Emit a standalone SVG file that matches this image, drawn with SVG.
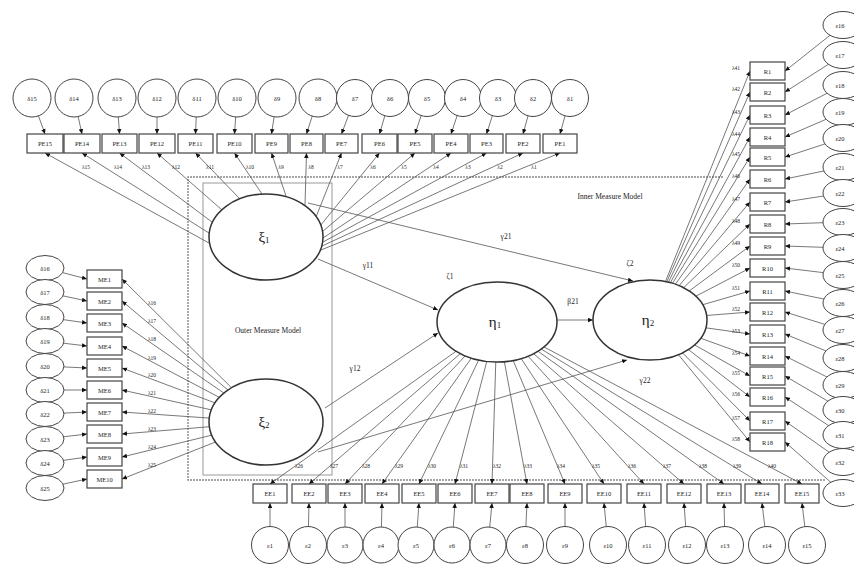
<svg xmlns="http://www.w3.org/2000/svg" width="854" height="564" viewBox="0 0 854 564">
<style>
.bx{fill:#fff;stroke:#444;stroke-width:1.2}
.er{fill:#fff;stroke:#444;stroke-width:1}
.lv{fill:#fff;stroke:#333;stroke-width:1.5}
.ln{stroke:#555;stroke-width:0.8;fill:none;marker-end:url(#a)}
.t{font-family:"Liberation Serif",serif;font-size:6.5px;fill:#222;text-anchor:middle;dominant-baseline:central}
.s{font-size:5.5px}
.p{font-size:7.5px}
.big{font-size:15px}
.fr{fill:none;stroke:#888;stroke-width:1.4;stroke-dasharray:2 1}
.fr2{fill:none;stroke:#999;stroke-width:1}
</style>
<defs>
<marker id="a" viewBox="0 0 6 6" refX="6" refY="3" markerWidth="5" markerHeight="5" markerUnits="userSpaceOnUse" orient="auto"><path d="M0,0.3 L6,3 L0,5.7 z" fill="#111"/></marker>
</defs>
<rect width="854" height="564" fill="#fff"/>
<g id="frames">
<path class="fr" d="M723,177 H188 V480 H825"/>
<rect class="fr2" x="203" y="183" width="129" height="292"/>
<text class="t p" x="610" y="196">Inner Measure Model</text>
<text class="t p" x="268" y="330">Outer Measure Model</text>
</g>
<g id="connectors">
<path class="ln" d="M32,98L45,134"/><path class="ln" d="M74,98L82,134"/><path class="ln" d="M117,98L119.5,134"/><path class="ln" d="M157,98L157,134"/><path class="ln" d="M197,98L195.5,134"/><path class="ln" d="M237,98L234.5,134"/><path class="ln" d="M277,98L271.5,134"/><path class="ln" d="M318,98L306.5,134"/><path class="ln" d="M355,98L341.5,134"/><path class="ln" d="M390,98L379.5,134"/><path class="ln" d="M427,98L415,134"/><path class="ln" d="M463,98L451,134"/><path class="ln" d="M498,98L486.5,134"/><path class="ln" d="M533,98L523,134"/><path class="ln" d="M570,98L560,134"/>
<path class="ln" d="M209,243L45,153"/><path class="ln" d="M209,233L82,153"/><path class="ln" d="M212,222L119.5,153"/><path class="ln" d="M222,210L157,153"/><path class="ln" d="M240,199L195.5,153"/><path class="ln" d="M262,194L234.5,153"/><path class="ln" d="M286,196L271.5,153"/><path class="ln" d="M305,205L306.5,153"/><path class="ln" d="M316,217L341.5,153"/><path class="ln" d="M320,226L379.5,153"/><path class="ln" d="M322,232L415,153"/><path class="ln" d="M323,238L451,153"/><path class="ln" d="M323,242L486.5,153"/><path class="ln" d="M322,246L523,153"/><path class="ln" d="M321,250L560,153"/>
<path class="ln" d="M45,268L87,279"/><path class="ln" d="M45,292L87,301"/><path class="ln" d="M45,317L87,323"/><path class="ln" d="M45,341L87,346"/><path class="ln" d="M45,366L87,368"/><path class="ln" d="M45,390L87,390"/><path class="ln" d="M45,414L87,412"/><path class="ln" d="M45,439L87,434"/><path class="ln" d="M45,463L87,457"/><path class="ln" d="M45,488L87,479"/>
<path class="ln" d="M266,422L122,279"/><path class="ln" d="M266,422L122,301"/><path class="ln" d="M266,422L122,323"/><path class="ln" d="M266,422L122,346"/><path class="ln" d="M266,422L122,368"/><path class="ln" d="M266,422L122,390"/><path class="ln" d="M266,422L122,412"/><path class="ln" d="M266,422L122,434"/><path class="ln" d="M266,422L122,457"/><path class="ln" d="M266,422L122,479"/>
<path class="ln" d="M270,545L270,503"/><path class="ln" d="M308,545L309,503"/><path class="ln" d="M345,545L345,503"/><path class="ln" d="M381,545L382,503"/><path class="ln" d="M416,545L419,503"/><path class="ln" d="M452,545L455,503"/><path class="ln" d="M488,545L492,503"/><path class="ln" d="M525,545L527,503"/><path class="ln" d="M565,545L565,503"/><path class="ln" d="M608,545L604,503"/><path class="ln" d="M647,545L644,503"/><path class="ln" d="M687,545L684,503"/><path class="ln" d="M725,545L724,503"/><path class="ln" d="M767,545L762,503"/><path class="ln" d="M807,545L802,503"/>
<path class="ln" d="M497,322L270,484"/><path class="ln" d="M497,322L309,484"/><path class="ln" d="M497,322L345,484"/><path class="ln" d="M497,322L382,484"/><path class="ln" d="M497,322L419,484"/><path class="ln" d="M497,322L455,484"/><path class="ln" d="M497,322L492,484"/><path class="ln" d="M497,322L527,484"/><path class="ln" d="M497,322L565,484"/><path class="ln" d="M497,322L604,484"/><path class="ln" d="M497,322L644,484"/><path class="ln" d="M497,322L684,484"/><path class="ln" d="M497,322L724,484"/><path class="ln" d="M497,322L762,484"/><path class="ln" d="M497,322L802,484"/>
<path class="ln" d="M843,25L785,71"/><path class="ln" d="M843,55L785,92"/><path class="ln" d="M843,85L785,115"/><path class="ln" d="M843,112L785,137"/><path class="ln" d="M843,138L785,157"/><path class="ln" d="M843,167L785,179"/><path class="ln" d="M843,193L785,202"/><path class="ln" d="M843,222L785,224"/><path class="ln" d="M843,248L785,246"/><path class="ln" d="M843,275L785,268"/><path class="ln" d="M843,303L785,291"/><path class="ln" d="M843,330L785,312"/><path class="ln" d="M843,358L785,334"/><path class="ln" d="M843,385L785,356"/><path class="ln" d="M843,410L785,376"/><path class="ln" d="M843,435L785,397"/><path class="ln" d="M843,462L785,421"/><path class="ln" d="M843,493L785,442"/>
<path class="ln" d="M650,320L750,71"/><path class="ln" d="M650,320L750,92"/><path class="ln" d="M650,320L750,115"/><path class="ln" d="M650,320L750,137"/><path class="ln" d="M650,320L750,157"/><path class="ln" d="M650,320L750,179"/><path class="ln" d="M650,320L750,202"/><path class="ln" d="M650,320L750,224"/><path class="ln" d="M650,320L750,246"/><path class="ln" d="M650,320L750,268"/><path class="ln" d="M650,320L750,291"/><path class="ln" d="M650,320L750,312"/><path class="ln" d="M650,320L750,334"/><path class="ln" d="M650,320L750,356"/><path class="ln" d="M650,320L750,376"/><path class="ln" d="M650,320L750,397"/><path class="ln" d="M650,320L750,421"/><path class="ln" d="M650,320L750,442"/>
<path class="ln" d="M318,259L438,310"/><path class="ln" d="M308,203L633,281"/><path class="ln" d="M325,408L438,333"/><path class="ln" d="M318,452L627,360"/><path class="ln" d="M557,320L593,320"/>
<g id="labels">
<text class="t s" x="86" y="167">λ15</text><text class="t s" x="118" y="167">λ14</text><text class="t s" x="146" y="167">λ13</text><text class="t s" x="176" y="167">λ12</text><text class="t s" x="210" y="167">λ11</text><text class="t s" x="250" y="167">λ10</text><text class="t s" x="281" y="167">λ9</text><text class="t s" x="311" y="167">λ8</text><text class="t s" x="340" y="167">λ7</text><text class="t s" x="373" y="167">λ6</text><text class="t s" x="404" y="167">λ5</text><text class="t s" x="436" y="167">λ4</text><text class="t s" x="468" y="167">λ3</text><text class="t s" x="500" y="167">λ2</text><text class="t s" x="534" y="167">λ1</text>
<text class="t s" x="152" y="303">λ16</text><text class="t s" x="152" y="321">λ17</text><text class="t s" x="152" y="339">λ18</text><text class="t s" x="152" y="358">λ19</text><text class="t s" x="152" y="375">λ20</text><text class="t s" x="152" y="393">λ21</text><text class="t s" x="152" y="411">λ22</text><text class="t s" x="152" y="429">λ23</text><text class="t s" x="152" y="447">λ24</text><text class="t s" x="152" y="465">λ25</text>
<text class="t s" x="299" y="466">λ26</text><text class="t s" x="334" y="466">λ27</text><text class="t s" x="366" y="466">λ28</text><text class="t s" x="399" y="466">λ29</text><text class="t s" x="432" y="466">λ30</text><text class="t s" x="464" y="466">λ31</text><text class="t s" x="497" y="466">λ32</text><text class="t s" x="528" y="466">λ33</text><text class="t s" x="561" y="466">λ34</text><text class="t s" x="596" y="466">λ35</text><text class="t s" x="632" y="466">λ36</text><text class="t s" x="667" y="466">λ37</text><text class="t s" x="703" y="466">λ38</text><text class="t s" x="737" y="466">λ39</text><text class="t s" x="772" y="466">λ40</text>
<text class="t s" x="736" y="68">λ41</text><text class="t s" x="736" y="89">λ42</text><text class="t s" x="736" y="112">λ43</text><text class="t s" x="736" y="134">λ44</text><text class="t s" x="736" y="154">λ45</text><text class="t s" x="736" y="176">λ46</text><text class="t s" x="736" y="199">λ47</text><text class="t s" x="736" y="221">λ48</text><text class="t s" x="736" y="243">λ49</text><text class="t s" x="736" y="265">λ50</text><text class="t s" x="736" y="288">λ51</text><text class="t s" x="736" y="309">λ52</text><text class="t s" x="736" y="331">λ53</text><text class="t s" x="736" y="353">λ54</text><text class="t s" x="736" y="373">λ55</text><text class="t s" x="736" y="394">λ56</text><text class="t s" x="736" y="418">λ57</text><text class="t s" x="736" y="439">λ58</text>
<text class="t p" x="368" y="265">γ11</text><text class="t p" x="506" y="236">γ21</text><text class="t p" x="355" y="368">γ12</text><text class="t p" x="645" y="380">γ22</text><text class="t p" x="573" y="301">β21</text><text class="t p" x="450" y="276">ζ1</text><text class="t p" x="630" y="263">ζ2</text>
</g>
</g>
<g id="nodes">
<g id="PE15"><rect class="bx" x="27" y="134" width="36" height="19"/><text class="t" x="45" y="143.5">PE15</text></g>
<g id="PE14"><rect class="bx" x="64" y="134" width="36" height="19"/><text class="t" x="82" y="143.5">PE14</text></g>
<g id="PE13"><rect class="bx" x="102" y="134" width="35" height="19"/><text class="t" x="119.5" y="143.5">PE13</text></g>
<g id="PE12"><rect class="bx" x="139" y="134" width="36" height="19"/><text class="t" x="157" y="143.5">PE12</text></g>
<g id="PE11"><rect class="bx" x="178" y="134" width="35" height="19"/><text class="t" x="195.5" y="143.5">PE11</text></g>
<g id="PE10"><rect class="bx" x="217" y="134" width="35" height="19"/><text class="t" x="234.5" y="143.5">PE10</text></g>
<g id="PE9"><rect class="bx" x="255" y="134" width="33" height="19"/><text class="t" x="271.5" y="143.5">PE9</text></g>
<g id="PE8"><rect class="bx" x="290" y="134" width="33" height="19"/><text class="t" x="306.5" y="143.5">PE8</text></g>
<g id="PE7"><rect class="bx" x="325" y="134" width="33" height="19"/><text class="t" x="341.5" y="143.5">PE7</text></g>
<g id="PE6"><rect class="bx" x="362" y="134" width="35" height="19"/><text class="t" x="379.5" y="143.5">PE6</text></g>
<g id="PE5"><rect class="bx" x="398" y="134" width="34" height="19"/><text class="t" x="415" y="143.5">PE5</text></g>
<g id="PE4"><rect class="bx" x="434" y="134" width="34" height="19"/><text class="t" x="451" y="143.5">PE4</text></g>
<g id="PE3"><rect class="bx" x="470" y="134" width="33" height="19"/><text class="t" x="486.5" y="143.5">PE3</text></g>
<g id="PE2"><rect class="bx" x="506" y="134" width="34" height="19"/><text class="t" x="523" y="143.5">PE2</text></g>
<g id="PE1"><rect class="bx" x="543" y="134" width="34" height="19"/><text class="t" x="560" y="143.5">PE1</text></g>
<g id="d15"><circle class="er" cx="32" cy="98" r="19"/><text class="t" x="32" y="98">δ15</text></g>
<g id="d14"><circle class="er" cx="74" cy="98" r="19"/><text class="t" x="74" y="98">δ14</text></g>
<g id="d13"><circle class="er" cx="117" cy="98" r="19"/><text class="t" x="117" y="98">δ13</text></g>
<g id="d12"><circle class="er" cx="157" cy="98" r="19"/><text class="t" x="157" y="98">δ12</text></g>
<g id="d11"><circle class="er" cx="197" cy="98" r="19"/><text class="t" x="197" y="98">δ11</text></g>
<g id="d10"><circle class="er" cx="237" cy="98" r="19"/><text class="t" x="237" y="98">δ10</text></g>
<g id="d9"><circle class="er" cx="277" cy="98" r="19"/><text class="t" x="277" y="98">δ9</text></g>
<g id="d8"><circle class="er" cx="318" cy="98" r="19"/><text class="t" x="318" y="98">δ8</text></g>
<g id="d7"><circle class="er" cx="355" cy="98" r="18.5"/><text class="t" x="355" y="98">δ7</text></g>
<g id="d6"><circle class="er" cx="390" cy="98" r="18.5"/><text class="t" x="390" y="98">δ6</text></g>
<g id="d5"><circle class="er" cx="427" cy="98" r="18.5"/><text class="t" x="427" y="98">δ5</text></g>
<g id="d4"><circle class="er" cx="463" cy="98" r="18.5"/><text class="t" x="463" y="98">δ4</text></g>
<g id="d3"><circle class="er" cx="498" cy="98" r="18.5"/><text class="t" x="498" y="98">δ3</text></g>
<g id="d2"><circle class="er" cx="533" cy="98" r="18.5"/><text class="t" x="533" y="98">δ2</text></g>
<g id="d1"><circle class="er" cx="570" cy="98" r="18.5"/><text class="t" x="570" y="98">δ1</text></g>
<g id="ME1"><rect class="bx" x="87" y="270" width="35" height="18"/><text class="t" x="104.5" y="279">ME1</text></g>
<g id="ME2"><rect class="bx" x="87" y="292" width="35" height="18"/><text class="t" x="104.5" y="301">ME2</text></g>
<g id="ME3"><rect class="bx" x="87" y="314" width="35" height="18"/><text class="t" x="104.5" y="323">ME3</text></g>
<g id="ME4"><rect class="bx" x="87" y="337" width="35" height="18"/><text class="t" x="104.5" y="346">ME4</text></g>
<g id="ME5"><rect class="bx" x="87" y="359" width="35" height="18"/><text class="t" x="104.5" y="368">ME5</text></g>
<g id="ME6"><rect class="bx" x="87" y="381" width="35" height="18"/><text class="t" x="104.5" y="390">ME6</text></g>
<g id="ME7"><rect class="bx" x="87" y="403" width="35" height="18"/><text class="t" x="104.5" y="412">ME7</text></g>
<g id="ME8"><rect class="bx" x="87" y="425" width="35" height="18"/><text class="t" x="104.5" y="434">ME8</text></g>
<g id="ME9"><rect class="bx" x="87" y="448" width="35" height="18"/><text class="t" x="104.5" y="457">ME9</text></g>
<g id="ME10"><rect class="bx" x="87" y="470" width="35" height="18"/><text class="t" x="104.5" y="479">ME10</text></g>
<g id="d16"><ellipse class="er" cx="45" cy="268" rx="19" ry="12.5"/><text class="t" x="45" y="268">δ16</text></g>
<g id="d17"><ellipse class="er" cx="45" cy="292" rx="19" ry="12.5"/><text class="t" x="45" y="292">δ17</text></g>
<g id="d18"><ellipse class="er" cx="45" cy="317" rx="19" ry="12.5"/><text class="t" x="45" y="317">δ18</text></g>
<g id="d19"><ellipse class="er" cx="45" cy="341" rx="19" ry="12.5"/><text class="t" x="45" y="341">δ19</text></g>
<g id="d20"><ellipse class="er" cx="45" cy="366" rx="19" ry="12.5"/><text class="t" x="45" y="366">δ20</text></g>
<g id="d21"><ellipse class="er" cx="45" cy="390" rx="19" ry="12.5"/><text class="t" x="45" y="390">δ21</text></g>
<g id="d22"><ellipse class="er" cx="45" cy="414" rx="19" ry="12.5"/><text class="t" x="45" y="414">δ22</text></g>
<g id="d23"><ellipse class="er" cx="45" cy="439" rx="19" ry="12.5"/><text class="t" x="45" y="439">δ23</text></g>
<g id="d24"><ellipse class="er" cx="45" cy="463" rx="19" ry="12.5"/><text class="t" x="45" y="463">δ24</text></g>
<g id="d25"><ellipse class="er" cx="45" cy="488" rx="19" ry="12.5"/><text class="t" x="45" y="488">δ25</text></g>
<g id="EE1"><rect class="bx" x="253" y="484" width="34" height="19"/><text class="t" x="270" y="493.5">EE1</text></g>
<g id="EE2"><rect class="bx" x="292" y="484" width="34" height="19"/><text class="t" x="309" y="493.5">EE2</text></g>
<g id="EE3"><rect class="bx" x="328" y="484" width="34" height="19"/><text class="t" x="345" y="493.5">EE3</text></g>
<g id="EE4"><rect class="bx" x="365" y="484" width="34" height="19"/><text class="t" x="382" y="493.5">EE4</text></g>
<g id="EE5"><rect class="bx" x="402" y="484" width="34" height="19"/><text class="t" x="419" y="493.5">EE5</text></g>
<g id="EE6"><rect class="bx" x="438" y="484" width="34" height="19"/><text class="t" x="455" y="493.5">EE6</text></g>
<g id="EE7"><rect class="bx" x="475" y="484" width="34" height="19"/><text class="t" x="492" y="493.5">EE7</text></g>
<g id="EE8"><rect class="bx" x="510" y="484" width="34" height="19"/><text class="t" x="527" y="493.5">EE8</text></g>
<g id="EE9"><rect class="bx" x="548" y="484" width="34" height="19"/><text class="t" x="565" y="493.5">EE9</text></g>
<g id="EE10"><rect class="bx" x="587" y="484" width="34" height="19"/><text class="t" x="604" y="493.5">EE10</text></g>
<g id="EE11"><rect class="bx" x="627" y="484" width="34" height="19"/><text class="t" x="644" y="493.5">EE11</text></g>
<g id="EE12"><rect class="bx" x="667" y="484" width="34" height="19"/><text class="t" x="684" y="493.5">EE12</text></g>
<g id="EE13"><rect class="bx" x="707" y="484" width="34" height="19"/><text class="t" x="724" y="493.5">EE13</text></g>
<g id="EE14"><rect class="bx" x="745" y="484" width="34" height="19"/><text class="t" x="762" y="493.5">EE14</text></g>
<g id="EE15"><rect class="bx" x="785" y="484" width="34" height="19"/><text class="t" x="802" y="493.5">EE15</text></g>
<g id="e1"><circle class="er" cx="270" cy="545" r="18.5"/><text class="t" x="270" y="545">ε1</text></g>
<g id="e2"><circle class="er" cx="308" cy="545" r="18.5"/><text class="t" x="308" y="545">ε2</text></g>
<g id="e3"><circle class="er" cx="345" cy="545" r="18"/><text class="t" x="345" y="545">ε3</text></g>
<g id="e4"><circle class="er" cx="381" cy="545" r="18"/><text class="t" x="381" y="545">ε4</text></g>
<g id="e5"><circle class="er" cx="416" cy="545" r="18"/><text class="t" x="416" y="545">ε5</text></g>
<g id="e6"><circle class="er" cx="452" cy="545" r="18"/><text class="t" x="452" y="545">ε6</text></g>
<g id="e7"><circle class="er" cx="488" cy="545" r="18"/><text class="t" x="488" y="545">ε7</text></g>
<g id="e8"><circle class="er" cx="525" cy="545" r="18.5"/><text class="t" x="525" y="545">ε8</text></g>
<g id="e9"><circle class="er" cx="565" cy="545" r="18.5"/><text class="t" x="565" y="545">ε9</text></g>
<g id="e10"><circle class="er" cx="608" cy="545" r="18.5"/><text class="t" x="608" y="545">ε10</text></g>
<g id="e11"><circle class="er" cx="647" cy="545" r="18.5"/><text class="t" x="647" y="545">ε11</text></g>
<g id="e12"><circle class="er" cx="687" cy="545" r="18.5"/><text class="t" x="687" y="545">ε12</text></g>
<g id="e13"><circle class="er" cx="725" cy="545" r="18.5"/><text class="t" x="725" y="545">ε13</text></g>
<g id="e14"><circle class="er" cx="767" cy="545" r="18.5"/><text class="t" x="767" y="545">ε14</text></g>
<g id="e15"><circle class="er" cx="807" cy="545" r="18.5"/><text class="t" x="807" y="545">ε15</text></g>
<g id="R1"><rect class="bx" x="750" y="62" width="35" height="18"/><text class="t" x="767.5" y="71">R1</text></g>
<g id="R2"><rect class="bx" x="750" y="83" width="35" height="18"/><text class="t" x="767.5" y="92">R2</text></g>
<g id="R3"><rect class="bx" x="750" y="106" width="35" height="18"/><text class="t" x="767.5" y="115">R3</text></g>
<g id="R4"><rect class="bx" x="750" y="128" width="35" height="18"/><text class="t" x="767.5" y="137">R4</text></g>
<g id="R5"><rect class="bx" x="750" y="148" width="35" height="18"/><text class="t" x="767.5" y="157">R5</text></g>
<g id="R6"><rect class="bx" x="750" y="170" width="35" height="18"/><text class="t" x="767.5" y="179">R6</text></g>
<g id="R7"><rect class="bx" x="750" y="193" width="35" height="18"/><text class="t" x="767.5" y="202">R7</text></g>
<g id="R8"><rect class="bx" x="750" y="215" width="35" height="18"/><text class="t" x="767.5" y="224">R8</text></g>
<g id="R9"><rect class="bx" x="750" y="237" width="35" height="18"/><text class="t" x="767.5" y="246">R9</text></g>
<g id="R10"><rect class="bx" x="750" y="259" width="35" height="18"/><text class="t" x="767.5" y="268">R10</text></g>
<g id="R11"><rect class="bx" x="750" y="282" width="35" height="18"/><text class="t" x="767.5" y="291">R11</text></g>
<g id="R12"><rect class="bx" x="750" y="303" width="35" height="18"/><text class="t" x="767.5" y="312">R12</text></g>
<g id="R13"><rect class="bx" x="750" y="325" width="35" height="18"/><text class="t" x="767.5" y="334">R13</text></g>
<g id="R14"><rect class="bx" x="750" y="347" width="35" height="18"/><text class="t" x="767.5" y="356">R14</text></g>
<g id="R15"><rect class="bx" x="750" y="367" width="35" height="18"/><text class="t" x="767.5" y="376">R15</text></g>
<g id="R16"><rect class="bx" x="750" y="388" width="35" height="18"/><text class="t" x="767.5" y="397">R16</text></g>
<g id="R17"><rect class="bx" x="750" y="412" width="35" height="18"/><text class="t" x="767.5" y="421">R17</text></g>
<g id="R18"><rect class="bx" x="750" y="433" width="35" height="18"/><text class="t" x="767.5" y="442">R18</text></g>
<g id="e16"><ellipse class="er" cx="843" cy="25" rx="20" ry="13.5"/><text class="t" x="840" y="25">ε16</text></g>
<g id="e17"><ellipse class="er" cx="843" cy="55" rx="20" ry="13.5"/><text class="t" x="840" y="55">ε17</text></g>
<g id="e18"><ellipse class="er" cx="843" cy="85" rx="20" ry="13.5"/><text class="t" x="840" y="85">ε18</text></g>
<g id="e19"><ellipse class="er" cx="843" cy="112" rx="20" ry="13.5"/><text class="t" x="840" y="112">ε19</text></g>
<g id="e20"><ellipse class="er" cx="843" cy="138" rx="20" ry="13.5"/><text class="t" x="840" y="138">ε20</text></g>
<g id="e21"><ellipse class="er" cx="843" cy="167" rx="20" ry="13.5"/><text class="t" x="840" y="167">ε21</text></g>
<g id="e22"><ellipse class="er" cx="843" cy="193" rx="20" ry="13.5"/><text class="t" x="840" y="193">ε22</text></g>
<g id="e23"><ellipse class="er" cx="843" cy="222" rx="20" ry="13.5"/><text class="t" x="840" y="222">ε23</text></g>
<g id="e24"><ellipse class="er" cx="843" cy="248" rx="20" ry="13.5"/><text class="t" x="840" y="248">ε24</text></g>
<g id="e25"><ellipse class="er" cx="843" cy="275" rx="20" ry="13.5"/><text class="t" x="840" y="275">ε25</text></g>
<g id="e26"><ellipse class="er" cx="843" cy="303" rx="20" ry="13.5"/><text class="t" x="840" y="303">ε26</text></g>
<g id="e27"><ellipse class="er" cx="843" cy="330" rx="20" ry="13.5"/><text class="t" x="840" y="330">ε27</text></g>
<g id="e28"><ellipse class="er" cx="843" cy="358" rx="20" ry="13.5"/><text class="t" x="840" y="358">ε28</text></g>
<g id="e29"><ellipse class="er" cx="843" cy="385" rx="20" ry="13.5"/><text class="t" x="840" y="385">ε29</text></g>
<g id="e30"><ellipse class="er" cx="843" cy="410" rx="20" ry="13.5"/><text class="t" x="840" y="410">ε30</text></g>
<g id="e31"><ellipse class="er" cx="843" cy="435" rx="20" ry="13.5"/><text class="t" x="840" y="435">ε31</text></g>
<g id="e32"><ellipse class="er" cx="843" cy="462" rx="20" ry="13.5"/><text class="t" x="840" y="462">ε32</text></g>
<g id="e33"><ellipse class="er" cx="843" cy="493" rx="20" ry="13.5"/><text class="t" x="840" y="493">ε33</text></g>
<g id="xi1"><ellipse class="lv" cx="266" cy="237" rx="57" ry="43"/><text class="t big" x="264" y="237">ξ<tspan font-size="9" dy="3">1</tspan></text></g>
<g id="xi2"><ellipse class="lv" cx="266" cy="422" rx="57" ry="43"/><text class="t big" x="264" y="422">ξ<tspan font-size="9" dy="3">2</tspan></text></g>
<g id="eta1"><ellipse class="lv" cx="497" cy="322" rx="60" ry="40"/><text class="t big" x="495" y="322">η<tspan font-size="9" dy="3">1</tspan></text></g>
<g id="eta2"><ellipse class="lv" cx="650" cy="320" rx="57" ry="40"/><text class="t big" x="648" y="320">η<tspan font-size="9" dy="3">2</tspan></text></g>
</g>
</svg>
